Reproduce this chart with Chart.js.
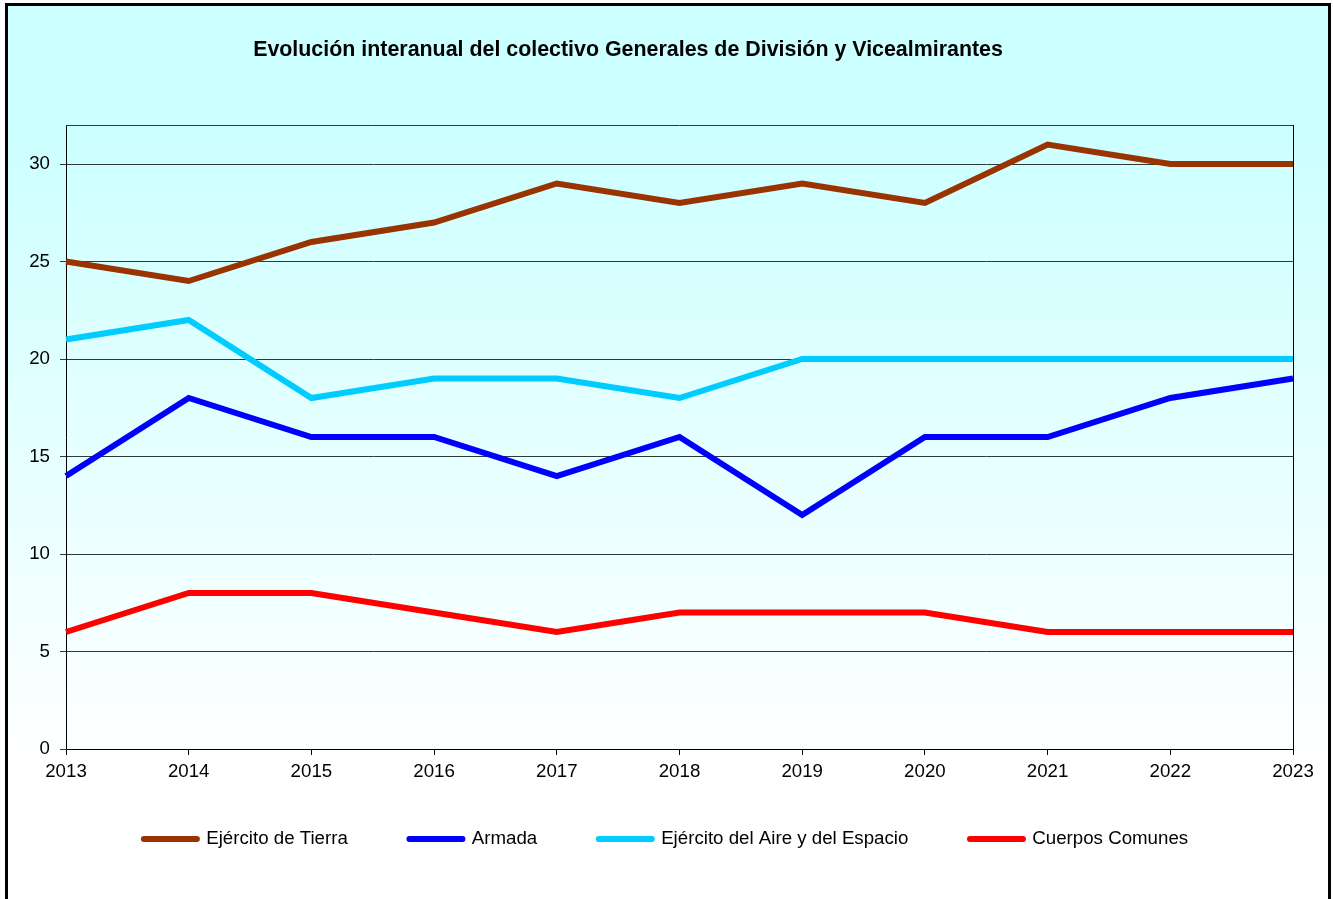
<!DOCTYPE html>
<html>
<head>
<meta charset="utf-8">
<script src="https://cdn.jsdelivr.net/npm/chart.js@4/dist/chart.umd.min.js"></script>
<style>
  html, body { margin: 0; padding: 0; width: 1333px; height: 899px; overflow: hidden; background: #ffffff; }
  #frame { position: absolute; left: 5px; top: 3px; width: 1320px; height: 920px; border: 3px solid #000;
    background: linear-gradient(to bottom, #CCFFFF 0px, #CCFFFF 120px, #FFFFFF 760px, #FFFFFF 920px); }
  #wrap { position: absolute; left: 0; top: 0; width: 1333px; height: 899px; }
</style>
</head>
<body>
<div id="frame"></div>
<div id="wrap"><canvas id="c" width="1333" height="899"></canvas></div>
<script>
const titleText = 'Evolución interanual del colectivo Generales de División y Vicealmirantes';
const years = ['2013','2014','2015','2016','2017','2018','2019','2020','2021','2022','2023'];
const seriesNames = ['Ejército de Tierra','Armada','Ejército del Aire y del Espacio','Cuerpos Comunes'];
const tierra   = [25,24,26,27,29,28,29,28,31,30,30];
const armada   = [14,18,16,16,14,16,12,16,16,18,19];
const aire     = [21,22,18,19,19,18,20,20,20,20,20];
const comunes  = [6,8,8,7,6,7,7,7,6,6,6];
const colors = ['#993300','#0000FF','#00CCFF','#FF0000'];

const FONT = "'Liberation Sans', Arial, sans-serif";
const FS = 18.7;
const LEG_PAD = 61.6;
const GRID = '#2e3a3a';

const framePlugin = {
  id: 'framePlugin',
  afterLayout(chart) {
    const lg = chart.legend;
    if (lg) {
      const h = lg.height;
      lg.top = 839 - LEG_PAD - FS / 2; lg.bottom = lg.top + h;
      lg.left += 7; lg.right += 7;
    }
  },
  beforeDatasetsDraw(chart) {
    const {ctx, chartArea: a} = chart;
    ctx.save();
    ctx.lineWidth = 1;
    ctx.strokeStyle = GRID;
    ctx.beginPath(); ctx.moveTo(a.left, a.top + 0.5); ctx.lineTo(a.right, a.top + 0.5); ctx.stroke();
    ctx.strokeStyle = '#000000';
    ctx.beginPath(); ctx.moveTo(Math.round(a.right) + 0.5, a.top); ctx.lineTo(Math.round(a.right) + 0.5, a.bottom); ctx.stroke();
    ctx.restore();
  },
  afterDraw(chart) {
    const ctx = chart.ctx;
    ctx.save();
    ctx.font = 'bold 21.4px ' + FONT;
    ctx.fillStyle = '#000';
    ctx.textAlign = 'center';
    ctx.textBaseline = 'middle';
    ctx.fillText(titleText, 628, 50);
    ctx.restore();
  }
};

new Chart(document.getElementById('c'), {
  type: 'line',
  data: {
    labels: years,
    datasets: [tierra, armada, aire, comunes].map((d, i) => ({
      label: seriesNames[i],
      data: d,
      borderColor: colors[i],
      backgroundColor: colors[i],
      borderWidth: 6,
      pointRadius: 0,
      pointHoverRadius: 0,
      tension: 0,
      fill: false,
      clip: 10
    }))
  },
  options: {
    responsive: false,
    animation: false,
    events: [],
    layout: { padding: { left: 25, right: 40, top: 125, bottom: 14.7 } },
    plugins: {
      title: { display: false },
      tooltip: { enabled: false },
      legend: {
        position: 'bottom',
        maxHeight: 105,
        labels: {
          usePointStyle: true,
          pointStyle: 'line',
          pointStyleWidth: 53,
          padding: LEG_PAD,
          color: '#000',
          font: { family: FONT, size: FS },
          generateLabels(chart) {
            const items = Chart.defaults.plugins.legend.labels.generateLabels(chart);
            items.forEach(it => { it.lineCap = 'round'; it.lineWidth = 6; it.pointStyle = 'line'; });
            return items;
          }
        }
      }
    },
    scales: {
      x: {
        type: 'category',
        offset: false,
        grid: { display: true, drawOnChartArea: false, tickLength: 6, color: '#000' },
        border: { display: true, color: '#000', width: 1 },
        ticks: { color: '#000', font: { family: FONT, size: FS }, padding: 6, maxRotation: 0, autoSkip: false },
        afterFit(s) { s.height = 45; s.paddingLeft = 0; s.paddingRight = 0; }
      },
      y: {
        min: 0, max: 32,
        grid: { color: GRID, lineWidth: 1, tickLength: 6 },
        border: { display: true, color: '#000', width: 1 },
        ticks: { stepSize: 5, includeBounds: false, color: '#000', font: { family: FONT, size: FS }, padding: 10 },
        afterFit(s) { s.width = 41; s.paddingTop = 0; s.paddingBottom = 0; }
      }
    }
  },
  plugins: [framePlugin]
});
</script>
</body>
</html>
